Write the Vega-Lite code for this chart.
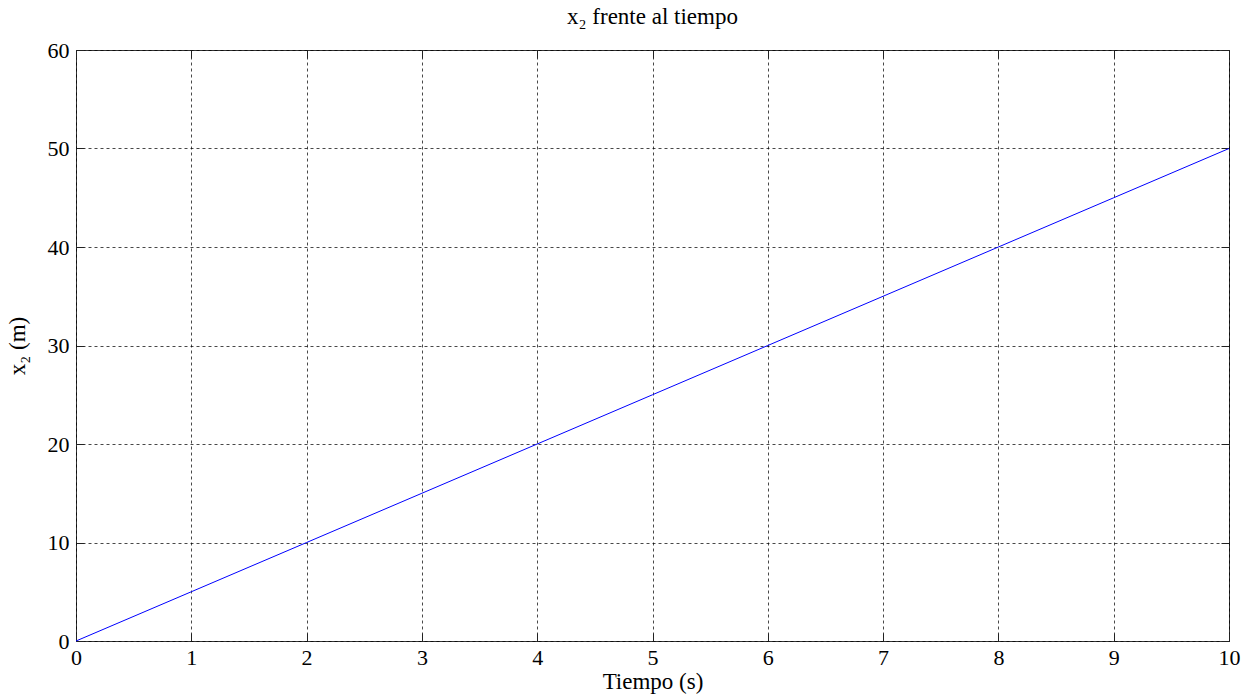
{
  "$schema": "https://vega.github.io/schema/vega-lite/v6.json",
  "width": 1153,
  "height": 591,
  "autosize": {"type": "none"},
  "padding": {"left": 76, "top": 50, "right": 29, "bottom": 56},
  "background": "white",
  "title": {"text": "x₂ frente al tiempo", "font": "Liberation Serif", "fontSize": 23, "fontWeight": "normal", "color": "black", "offset": 10},
  "config": {
    "view": {"stroke": "#333333", "strokeWidth": 1},
    "axis": {
      "labelFont": "Liberation Serif", "labelFontSize": 22, "labelColor": "black", "labelFlush": false,
      "titleFont": "Liberation Serif", "titleFontSize": 23, "titleFontWeight": "normal", "titleColor": "black",
      "domain": false, "tickColor": "#222222", "tickSize": -8,
      "gridColor": "#000000", "gridDash": [3, 3], "gridOpacity": 0.9, "gridWidth": 0.8
    }
  },
  "data": {"values": [
    {"t": 0, "x": 0}, {"t": 1, "x": 5}, {"t": 2, "x": 10}, {"t": 3, "x": 15},
    {"t": 4, "x": 20}, {"t": 5, "x": 25}, {"t": 6, "x": 30}, {"t": 7, "x": 35},
    {"t": 8, "x": 40}, {"t": 9, "x": 45}, {"t": 10, "x": 50}
  ]},
  "layer": [
    {
      "mark": {"type": "line", "color": "#0000ff", "strokeWidth": 1},
      "encoding": {
        "x": {"field": "t", "type": "quantitative", "scale": {"domain": [0, 10], "nice": false},
              "axis": {"title": "Tiempo (s)", "values": [0,1,2,3,4,5,6,7,8,9,10], "labelPadding": 14, "titlePadding": 2, "format": "d"}},
        "y": {"field": "x", "type": "quantitative", "scale": {"domain": [0, 60], "nice": false},
              "axis": {"title": "x₂ (m)", "values": [0,10,20,30,40,50,60], "labelPadding": 15, "titlePadding": 18, "format": "d"}}
      }
    },
    {
      "mark": {"type": "point", "opacity": 0},
      "encoding": {
        "x": {"field": "t", "type": "quantitative", "axis": {"orient": "top", "labels": false, "grid": false, "title": null, "values": [0,1,2,3,4,5,6,7,8,9,10]}},
        "y": {"field": "x", "type": "quantitative", "axis": {"orient": "right", "labels": false, "grid": false, "title": null, "values": [0,10,20,30,40,50,60]}}
      }
    }
  ],
  "resolve": {"axis": {"x": "independent", "y": "independent"}}
}
